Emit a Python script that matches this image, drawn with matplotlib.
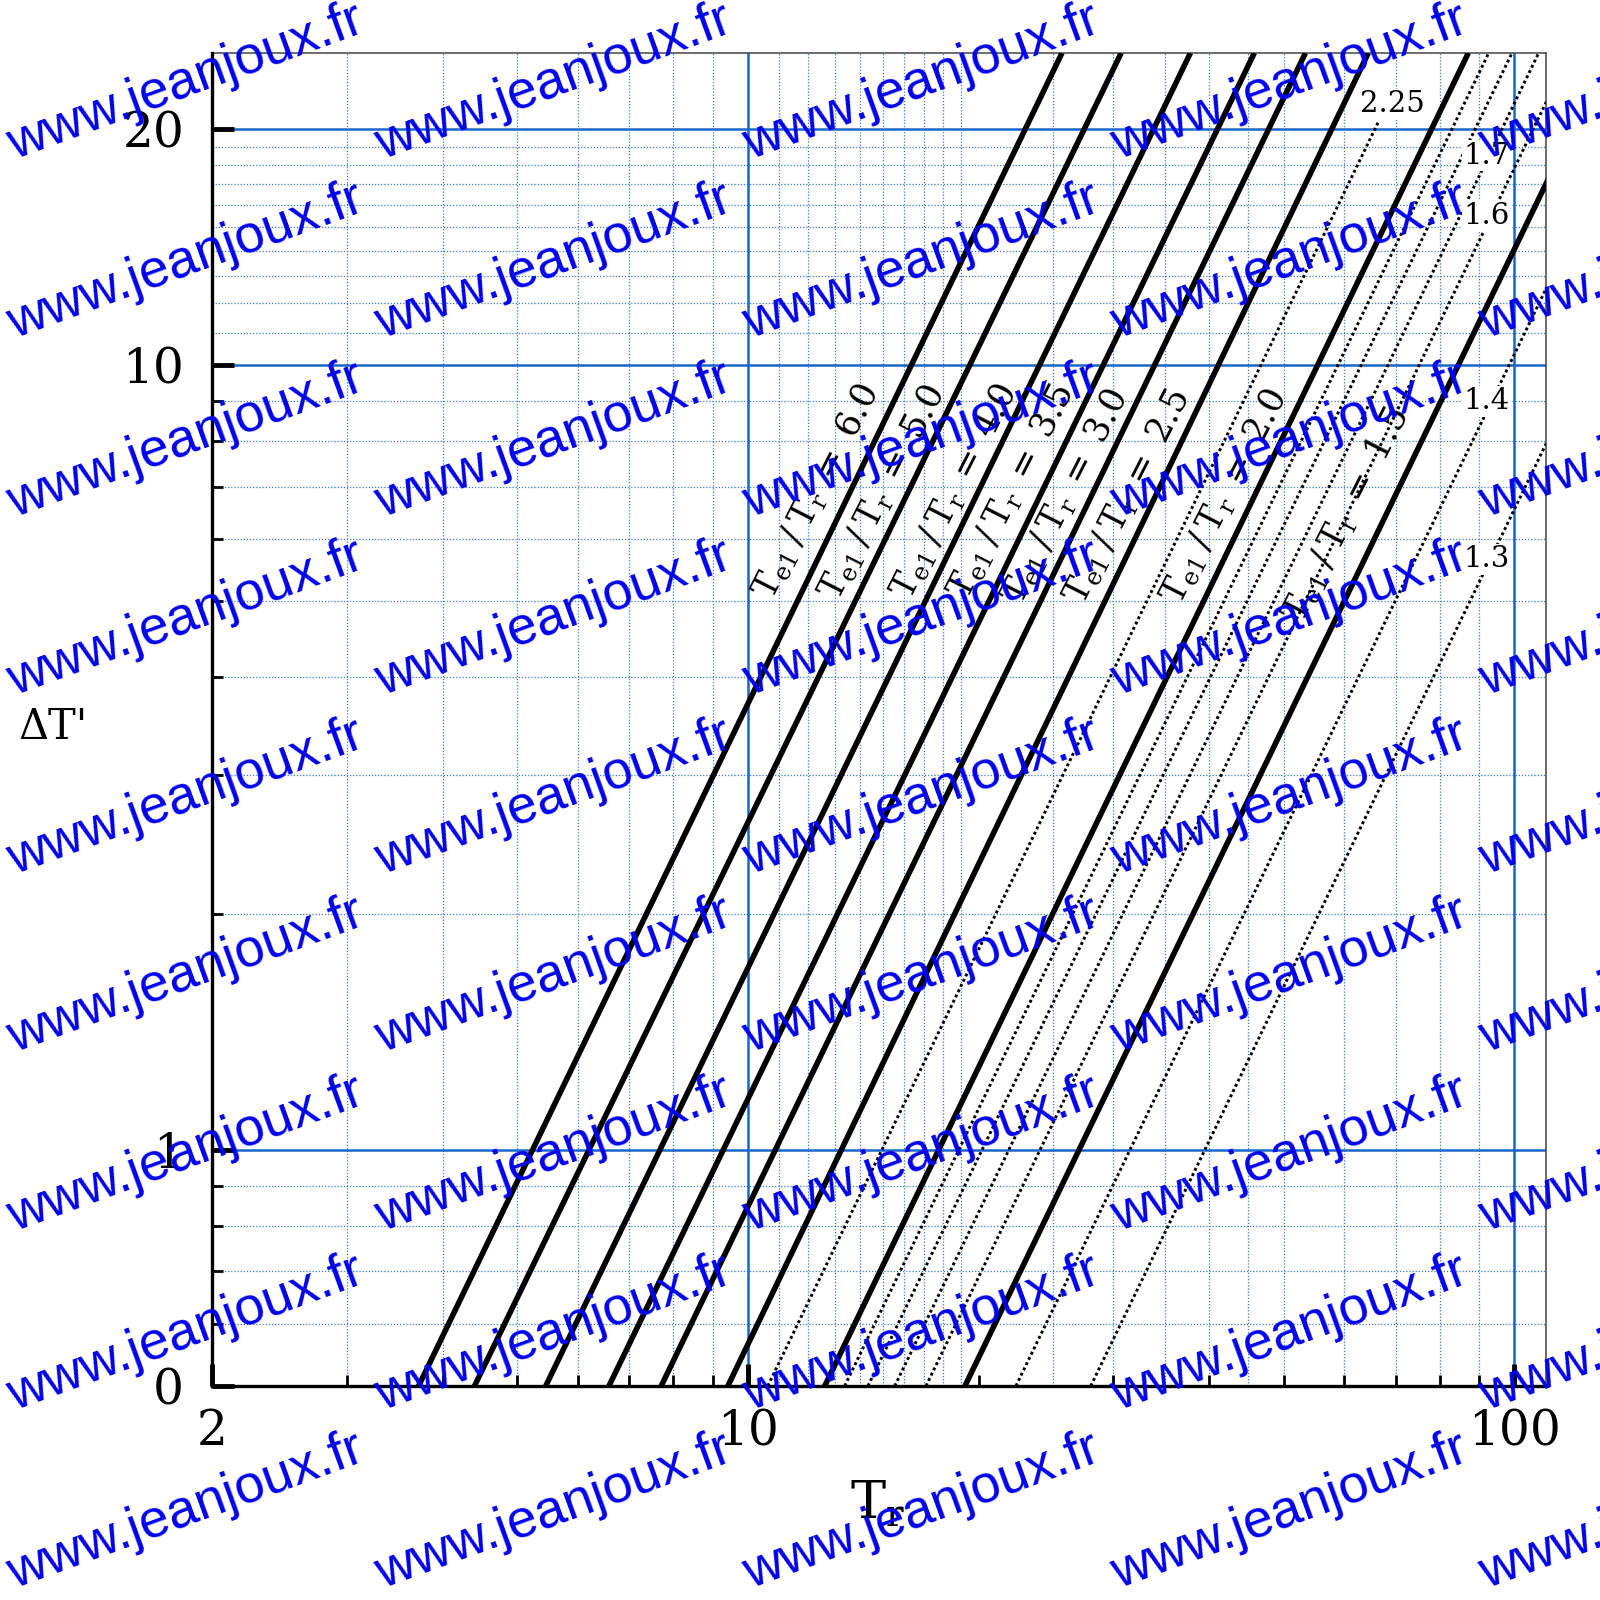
import matplotlib
matplotlib.use("Agg")
from matplotlib import pyplot as plt
from matplotlib.ticker import FixedLocator, NullFormatter
import numpy as np

plt.rcParams['font.family'] = 'DejaVu Serif'
plt.rcParams['mathtext.fontset'] = 'dejavuserif'

# solid curves: Te1/Tr ratio, T1 at dT'=0.5 (bottom) and T1 at dT'=25 (top)
solid_ratio = [6.0, 5.0, 4.0, 3.5, 3.0, 2.5, 2.0, 1.5]
solid_t_lo = [3.72, 4.40, 5.45, 6.59, 7.71, 9.42, 12.6, 19.2]
solid_t_hi = [25.7, 30.7, 37.8, 45.8, 53.4, 64.5, 87.1, 133.0]
solid_lab_x = [12.3, 15.0, 18.6, 22.1, 26.0, 31.3, 41.9, 60.4]
solid_lab_y = [6.9, 6.87, 6.9, 6.9, 6.8, 6.8, 6.8, 6.44]

# dotted curves
dot_ratio = [2.25, 1.9, 1.8, 1.7, 1.6, 1.4, 1.3]
dot_t_lo = [10.62, 13.38, 14.35, 15.55, 17.08, 22.38, 28.02]
dot_t_hi = [66.6, 92.6, 99.3, 107.6, 118.2, 154.9, 194.0]
dot_d_hi = [20.5, 25, 25, 25, 25, 25, 25]
dot_lab = ['2.25', '', '', '1.7', '1.6', '1.4', '1.3']
dot_lab_x = [69.4, 0, 0, 92.1, 92.1, 92.1, 92.1]
dot_lab_y = [21.5, 0, 0, 18.5, 15.5, 9.0, 5.66]

# axes ticks and grid
x_major = [2, 10, 100]
x_major_lab = ['2', '10', '100']
y_major = [0.5, 1, 10, 20]
y_major_lab = ['0', '1', '10', '20']
x_minor_ticks = [3, 4, 5, 6, 7, 8, 9, 20, 30, 40, 50, 60, 70, 80, 90]
y_minor_ticks = [0.6, 0.7, 0.8, 0.9, 2, 3, 4, 5, 6, 7, 8, 9]
x_grid_major = [10, 100]
x_grid_minor = [3, 4, 5, 6, 7, 8, 9, 11, 12, 13, 14, 15, 16, 17, 18, 19,
                25, 30, 35, 40, 45, 50, 60, 70, 80, 90]
y_grid_major = [1, 10, 20]
y_grid_minor = [0.6, 0.7, 0.8, 0.9, 2, 3, 4, 5, 6, 7, 8, 9,
                11, 12, 13, 14, 15, 16, 17, 18, 19]

fig = plt.figure(figsize=(16, 16), dpi=100)
ax = fig.add_axes([212/1600, 1-1386/1600, 1334/1600, 1333/1600])
ax.set_xscale('log')
ax.set_yscale('log')
ax.set_xlim(2, 110)
ax.set_ylim(0.5, 25)

gmaj = '#1a66c8'
gmin = '#3a7ad6'
for v in x_grid_minor:
    ax.axvline(v, color=gmin, lw=0.9, ls=(0, (1, 1.5)), zorder=0.5)
for v in y_grid_minor:
    ax.axhline(v, color=gmin, lw=0.9, ls=(0, (1, 1.5)), zorder=0.5)
for v in x_grid_major:
    ax.axvline(v, color=gmaj, lw=1.8, zorder=0.6)
for v in y_grid_major:
    ax.axhline(v, color=gmaj, lw=1.8, zorder=0.6)

for r, a, b in zip(solid_ratio, solid_t_lo, solid_t_hi):
    ax.plot([a, b], [0.5, 25], color='black', lw=4.0, zorder=3,
            solid_capstyle='butt')
for r, a, b, d in zip(dot_ratio, dot_t_lo, dot_t_hi, dot_d_hi):
    ax.plot([a, b], [0.5, d], color='black', lw=2.1, ls=(0, (1, 1.0)), zorder=3)

for r, x, y in zip(solid_ratio, solid_lab_x, solid_lab_y):
    ax.text(x, y, r'$\mathrm{T_{e1}\:/\:T_r\ =\ %.1f}$' % r, fontsize=25,
            rotation=63, rotation_mode='anchor', ha='center', va='center',
            zorder=4)
for s, x, y in zip(dot_lab, dot_lab_x, dot_lab_y):
    if s:
        ax.text(x, y, s, fontsize=21, ha='center', va='center', zorder=4,
                bbox=dict(facecolor='white', edgecolor='none', pad=1))

ax.set_xticks(x_major, x_major_lab)
ax.set_yticks(y_major, y_major_lab)
ax.xaxis.set_minor_locator(FixedLocator(x_minor_ticks))
ax.yaxis.set_minor_locator(FixedLocator(y_minor_ticks))
ax.xaxis.set_minor_formatter(NullFormatter())
ax.yaxis.set_minor_formatter(NullFormatter())
ax.tick_params(which='major', direction='in', length=16, width=3.5,
               labelsize=35, top=False, right=False)
ax.tick_params(which='minor', direction='in', length=8, width=2,
               top=False, right=False)
ax.tick_params(axis='x', which='major', pad=16)
ax.tick_params(axis='y', which='major', pad=20)

for s in ['left', 'bottom']:
    ax.spines[s].set_linewidth(2.4)
    ax.spines[s].set_color('black')
    ax.spines[s].set_zorder(5)
for s in ['top', 'right']:
    ax.spines[s].set_linewidth(1.1)
    ax.spines[s].set_color('#444444')

ax.set_ylabel("ΔT'", fontsize=30, rotation=0, va='center', ha='center')
ax.yaxis.set_label_coords(-0.119, 0.494)
ax.set_xlabel(r'$\mathrm{T_r}$', fontsize=38, va='center')
ax.xaxis.set_label_coords(0.499, -0.089)

# watermark tiling
for j in range(5):
    for k in range(9):
        x0 = 14 + 368*j
        y0 = 160 + 178.6*k
        fig.text(x0/1600, 1 - y0/1600, 'www.jeanjoux.fr', fontsize=38.5,
                 family='Liberation Sans', color='#0000ee', rotation=20,
                 rotation_mode='anchor', ha='left', va='baseline', zorder=10)

plt.savefig('out.png', dpi=100)
